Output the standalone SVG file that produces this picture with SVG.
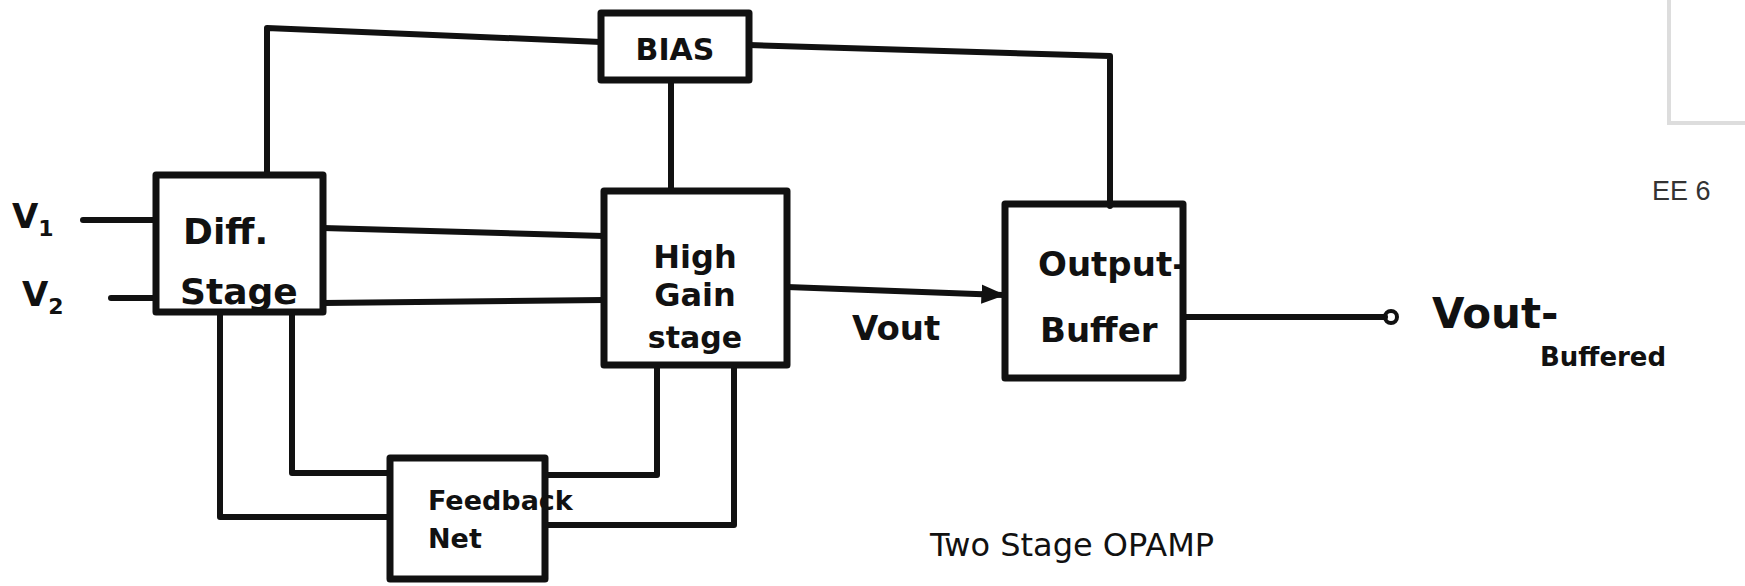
<svg xmlns="http://www.w3.org/2000/svg" width="1745" height="586" viewBox="0 0 1745 586">
<defs>
<style>
.box{fill:none;stroke:#111;stroke-width:7;stroke-linejoin:round}
.wire{fill:none;stroke:#111;stroke-width:6;stroke-linejoin:round;stroke-linecap:round}
.hand{font-family:"DejaVu Sans",sans-serif;fill:#111;font-weight:bold}
</style>
<marker id="arr" viewBox="0 0 10 10" refX="9" refY="5" markerWidth="4" markerHeight="4" orient="auto"><path d="M0,1 L10,5 L0,9 z" fill="#111"/></marker>
</defs>
<rect width="1745" height="586" fill="#fff"/>
<g id="corner">
<path d="M1669,0 V123 H1745" fill="none" stroke="#ddd" stroke-width="4"/>
<text x="1652" y="200" font-family="Liberation Sans,sans-serif" font-size="27" fill="#333">EE 6</text>
</g>
<g id="connectors">
<path class="wire" d="M267,175 V28 L601,42"/>
<path class="wire" d="M749,45 L1110,56 V206"/>
<path class="wire" d="M671,80 V191"/>
<path class="wire" d="M83,220 H156"/>
<path class="wire" d="M111,298 H156"/>
<path class="wire" d="M323,228 L604,236"/>
<path class="wire" d="M323,303 L604,300"/>
<path class="wire" d="M787,287 L1003,295" marker-end="url(#arr)"/>
<path class="wire" d="M1183,317 H1385"/>
<circle cx="1391" cy="317" r="6" fill="none" stroke="#111" stroke-width="4"/>
<path class="wire" d="M220,312 V517 H390"/>
<path class="wire" d="M292,312 V473 H390"/>
<path class="wire" d="M657,365 V475 H545"/>
<path class="wire" d="M734,365 V525 H545"/>
</g>
<g id="bias">
<rect class="box" x="601" y="13" width="148" height="67"/>
<text class="hand" x="675" y="60" font-size="30" text-anchor="middle">BIAS</text>
</g>
<g id="diff">
<rect class="box" x="156" y="175" width="167" height="137"/>
<text class="hand" x="183" y="244" font-size="36">Diff.</text>
<text class="hand" x="180" y="304" font-size="36">Stage</text>
<text class="hand" x="12" y="228" font-size="34">V<tspan font-size="22" dy="8">1</tspan></text>
<text class="hand" x="22" y="306" font-size="34">V<tspan font-size="22" dy="8">2</tspan></text>
</g>
<g id="highgain">
<rect class="box" x="604" y="191" width="183" height="174"/>
<text class="hand" x="695" y="268" font-size="32" text-anchor="middle">High</text>
<text class="hand" x="695" y="306" font-size="32" text-anchor="middle">Gain</text>
<text class="hand" x="695" y="348" font-size="30" text-anchor="middle">stage</text>
</g>
<g id="vout">
<text class="hand" x="852" y="340" font-size="34">Vout</text>
</g>
<g id="buffer">
<rect class="box" x="1005" y="204" width="178" height="174"/>
<text class="hand" x="1038" y="276" font-size="34">Output-</text>
<text class="hand" x="1040" y="342" font-size="34">Buffer</text>
</g>
<g id="out">
<text class="hand" x="1432" y="328" font-size="42">Vout-</text>
<text class="hand" x="1540" y="366" font-size="26">Buffered</text>
</g>
<g id="feedback">
<rect class="box" x="390" y="458" width="155" height="121"/>
<text class="hand" x="428" y="510" font-size="27">Feedback</text>
<text class="hand" x="428" y="548" font-size="27">Net</text>
</g>
<g id="title">
<text x="930" y="556" font-family="DejaVu Sans,sans-serif" font-size="32" fill="#111">Two Stage OPAMP</text>
</g>
</svg>
